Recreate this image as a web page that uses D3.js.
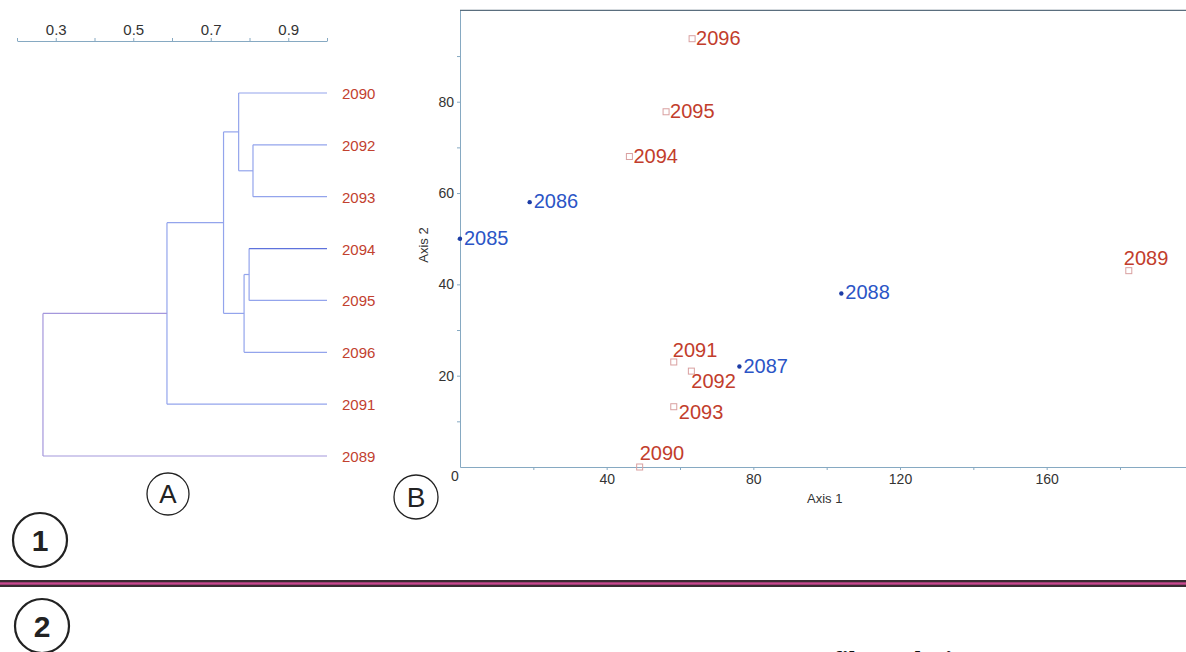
<!DOCTYPE html>
<html>
<head>
<meta charset="utf-8">
<script src="https://cdn.jsdelivr.net/npm/d3@7"></script>
<style>
  body { margin: 0; background: #fff; }
  svg { display: block; font-family: "Liberation Sans", Arial, Helvetica, sans-serif; }
  .axis path, .axis line { stroke: #86a9c2; }
  .axis text { fill: #333; font-size: 14px; font-family: "Liberation Sans", Arial, sans-serif; }
  .dendro-axis text { font-size: 15px; }
</style>
</head>
<body>
<script>
// dendrogram (panel A)
const leafNames = ["2090", "2092", "2093", "2094", "2095", "2096", "2091", "2089"];
const mergeA = ["2092", "2090", "2094", "n2", "n1", "n4", "n5"];
const mergeB = ["2093", "n0", "2095", "2096", "n3", "2091", "2089"];
const mergeSim = [0.809, 0.772, 0.799, 0.786, 0.733, 0.587, 0.267];
const dendroTicks = [0.2, 0.3, 0.4, 0.5, 0.6, 0.7, 0.8, 0.9, 1.0];
const dendroLabels = [0.3, 0.5, 0.7, 0.9];

// ordination (panel B)
const ordNames = ["2085", "2086", "2087", "2088", "2089", "2090", "2091", "2092", "2093", "2094", "2095", "2096"];
const axis1 = [0, 19, 76.2, 104, 182.4, 49, 58.3, 63.1, 58.3, 46.2, 56.2, 63.3];
const axis2 = [50, 58, 22, 38, 43, 0, 23, 21, 13.2, 68, 77.8, 93.8];
const ordGroup = ["blue", "blue", "blue", "blue", "red", "red", "red", "red", "red", "red", "red", "red"];
const axis1Ticks = [20, 40, 60, 80, 100, 120, 140, 160, 180];
const axis2Ticks = [10, 20, 30, 40, 50, 60, 70, 80, 90];

let W = 1186, H = 652;

let svg = d3.select("body").append("svg")
    .attr("width", W)
    .attr("height", H);

// ---------- panel A ----------
let xd = d3.scaleLinear().domain([0.2, 1.0]).range([17, 327]);
let yd = d3.scalePoint().domain(leafNames).range([93, 456]);

let dAxis = d3.axisTop(xd)
    .tickValues(dendroTicks)
    .tickFormat(d => dendroLabels.some(v => Math.abs(v - d) < 1e-9) ? d3.format(".1f")(d) : "")
    .tickSize(3)
    .tickSizeOuter(0)
    .tickPadding(3);

svg.append("g")
    .attr("class", "axis dendro-axis")
    .attr("transform", "translate(0,41)")
    .call(dAxis);

let pos = {};
leafNames.forEach(n => { pos[n] = {x: xd(1.0), y: yd(n)}; });

let links = [];
mergeSim.forEach((s, i) => {
    let a = pos[mergeA[i]], b = pos[mergeB[i]];
    let nx = xd(s);
    let isRoot = i === mergeSim.length - 1;
    pos["n" + i] = {x: nx, y: (a.y + b.y) / 2};
    links.push({x1: nx, y1: a.y, x2: nx, y2: b.y, root: isRoot});
    links.push({x1: nx, y1: a.y, x2: a.x, y2: a.y, root: isRoot, leaf: mergeA[i]});
    links.push({x1: nx, y1: b.y, x2: b.x, y2: b.y, root: isRoot, leaf: mergeB[i]});
});

svg.append("g").selectAll("line")
    .data(links)
    .join("line")
    .attr("x1", d => d.x1).attr("y1", d => d.y1)
    .attr("x2", d => d.x2).attr("y2", d => d.y2)
    .attr("stroke", d => d.leaf === "2094" ? "#5e72dc" : (d.root ? "#a497dc" : "#93a4ec"))
    .attr("stroke-width", 1.2);

svg.append("g").selectAll("text")
    .data(leafNames)
    .join("text")
    .attr("x", xd(1.0) + 15)
    .attr("y", d => yd(d) + 6)
    .attr("fill", "#c2412f")
    .style("font-size", "15px")
    .text(d => d);

// ---------- panel B ----------
let x = d3.scaleLinear().domain([0, 198]).range([460, 1186]);
let y = d3.scaleLinear().domain([0, 100]).range([467, 10.4]);

let xAxis = d3.axisBottom(x)
    .tickValues(axis1Ticks)
    .tickFormat(d => d % 40 === 0 ? d : "")
    .tickSize(3)
    .tickSizeOuter(0)
    .tickPadding(4);

let yAxis = d3.axisLeft(y)
    .tickValues(axis2Ticks)
    .tickFormat(d => d % 20 === 0 ? d : "")
    .tickSize(3)
    .tickSizeOuter(0)
    .tickPadding(3);

svg.append("g")
    .attr("class", "axis")
    .attr("transform", "translate(0," + y(0) + ")")
    .call(xAxis);

svg.append("g")
    .attr("class", "axis")
    .attr("transform", "translate(" + x(0) + ",0)")
    .call(yAxis);

// top frame line
svg.append("line")
    .attr("x1", x(0)).attr("x2", W)
    .attr("y1", y(100)).attr("y2", y(100))
    .attr("stroke", "#5a6e7e")
    .attr("stroke-width", 1.2);

svg.append("text")
    .attr("x", x(0) - 5)
    .attr("y", y(0) + 14)
    .attr("text-anchor", "middle")
    .attr("fill", "#333")
    .style("font-size", "14px")
    .text("0");

svg.append("text")
    .attr("x", 807)
    .attr("y", 503)
    .attr("fill", "#333")
    .style("font-size", "13px")
    .text("Axis 1");

svg.append("text")
    .attr("transform", "translate(428,245) rotate(-90)")
    .attr("text-anchor", "middle")
    .attr("fill", "#333")
    .style("font-size", "13px")
    .text("Axis 2");

let pts = ordNames.map((n, i) => ({name: n, a1: axis1[i], a2: axis2[i], g: ordGroup[i]}));

// label offsets (layout only)
let labelOffset = {"2091": [-1, -5], "2092": [0, 17], "2093": [5, 12], "2090": [0, -7], "2089": [-5, -6]};

let ptG = svg.append("g");

ptG.selectAll("rect")
    .data(pts.filter(d => d.g === "red"))
    .join("rect")
    .attr("x", d => x(d.a1) - 3)
    .attr("y", d => y(d.a2) - 3)
    .attr("width", 6)
    .attr("height", 6)
    .attr("fill", "none")
    .attr("stroke", "#d9a0a0")
    .attr("stroke-width", 1);

ptG.selectAll("circle")
    .data(pts.filter(d => d.g === "blue"))
    .join("circle")
    .attr("cx", d => x(d.a1))
    .attr("cy", d => y(d.a2))
    .attr("r", 2.2)
    .attr("fill", "#1d3ca6");

ptG.selectAll("text")
    .data(pts)
    .join("text")
    .attr("x", d => x(d.a1) + (labelOffset[d.name] ? labelOffset[d.name][0] : 4))
    .attr("y", d => y(d.a2) + (labelOffset[d.name] ? labelOffset[d.name][1] : 6))
    .attr("fill", d => d.g === "blue" ? "#2b55c6" : "#c23d2c")
    .style("font-size", "20px")
    .text(d => d.name);

// ---------- panel markers ----------
function circled(cx, cy, r, label, size, weight, sw) {
    svg.append("circle")
        .attr("cx", cx).attr("cy", cy).attr("r", r)
        .attr("fill", "none")
        .attr("stroke", "#222")
        .attr("stroke-width", sw);
    svg.append("text")
        .attr("x", cx).attr("y", cy)
        .attr("dy", "0.36em")
        .attr("text-anchor", "middle")
        .attr("fill", "#222")
        .style("font-size", size + "px")
        .style("font-weight", weight)
        .text(label);
}

circled(168, 494, 21, "A", 26, "normal", 1.3);
circled(416, 497, 22, "B", 28, "normal", 1.3);
circled(40, 540, 27, "1", 30, "bold", 2.2);
circled(42, 626, 27, "2", 30, "bold", 2.2);

// separator
svg.append("rect")
    .attr("x", 0).attr("y", 580)
    .attr("width", W).attr("height", 7)
    .attr("fill", "#3a2a32");
svg.append("rect")
    .attr("x", 0).attr("y", 582.3)
    .attr("width", W).attr("height", 2.4)
    .attr("fill", "#c8488f");

// heading of the next panel, cut by the bottom edge
svg.append("text")
    .attr("x", 793)
    .attr("y", 669)
    .attr("fill", "#111")
    .style("font-family", "'Liberation Serif', 'DejaVu Serif', serif")
    .style("font-weight", "bold")
    .style("font-size", "26px")
    .text("Profile analysis");
</script>
</body>
</html>
